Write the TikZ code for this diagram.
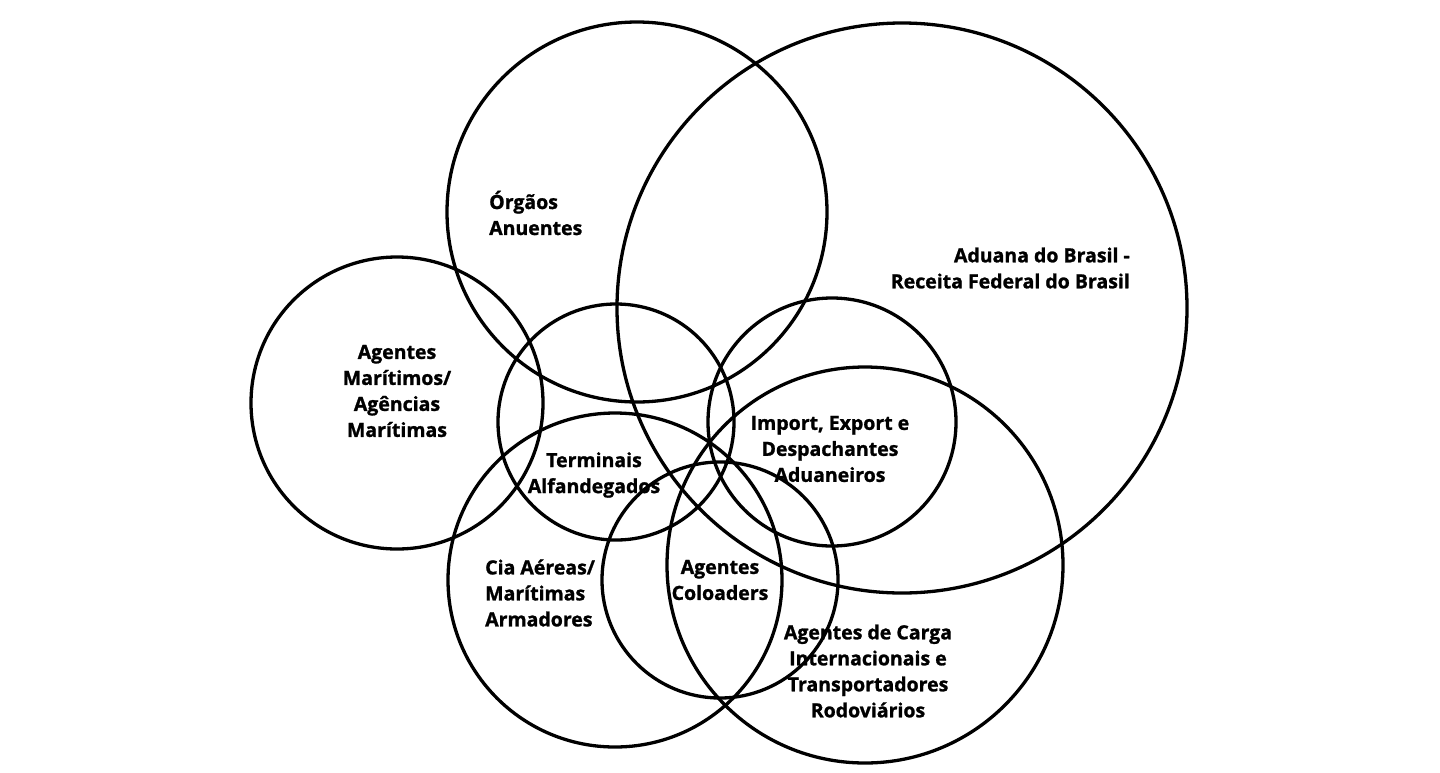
\documentclass[tikz,border=0pt]{standalone}
\usepackage{fontspec}
\setmainfont{Open Sans}[BoldFont={Open Sans Bold}, BoldFeatures={FakeBold=1.2}]
\usepackage{tikz}
\usetikzlibrary{positioning}

\begin{document}
\begin{tikzpicture}[x=1pt, y=-1pt,
    ring/.style={draw=black, circle, line width=3.3pt, inner sep=0pt},
    lbl/.style={font=\fontsize{19.5}{26}\selectfont\bfseries, align=center, inner sep=0pt}]
        \useasboundingbox[fill=white] (0,0) rectangle (1440,772);

        % Circles
        \node[ring, minimum size=380pt] (orgaos) at (637,212) {};
        \node[ring, minimum size=570pt] (aduana) at (902,308) {};
        \node[ring, minimum size=292pt] (maritimos) at (397,403) {};
        \node[ring, minimum size=236pt] (terminais) at (616,422) {};
        \node[ring, minimum size=248pt] (despachantes) at (832,422) {};
        \node[ring, minimum size=396pt] (carga) at (865,565) {};
        \node[ring, minimum size=334pt] (cia) at (615,580) {};
        \node[ring, minimum size=236pt] (coloaders) at (720,580) {};

        % Labels
        \node[lbl, align=left, anchor=west] (tOrgaos) at (489,213) {Órgãos\\Anuentes};
        \node[lbl, align=right, anchor=east] (tAduana) at (1130,268) {Aduana do Brasil -\\Receita Federal do Brasil};
        \node[lbl] (tMaritimos) at (397,391) {Agentes\\Marítimos/\\Agências\\Marítimas};
        \node[lbl] (tTerminais) at (594,475) {Terminais\\Alfandegados};
        \node[lbl] (tDespachantes) at (830,449) {Import, Export e\\Despachantes\\Aduaneiros};
        \node[lbl, align=left, anchor=west] (tCia) at (485,593) {Cia Aéreas/\\Marítimas\\Armadores};
        \node[lbl] (tColoaders) at (720,580) {Agentes\\Coloaders};
        \node[lbl] (tCarga) at (868,671) {Agentes de Carga\\Internacionais e\\Transportadores\\Rodoviários};
    \end{tikzpicture}
\end{document}
